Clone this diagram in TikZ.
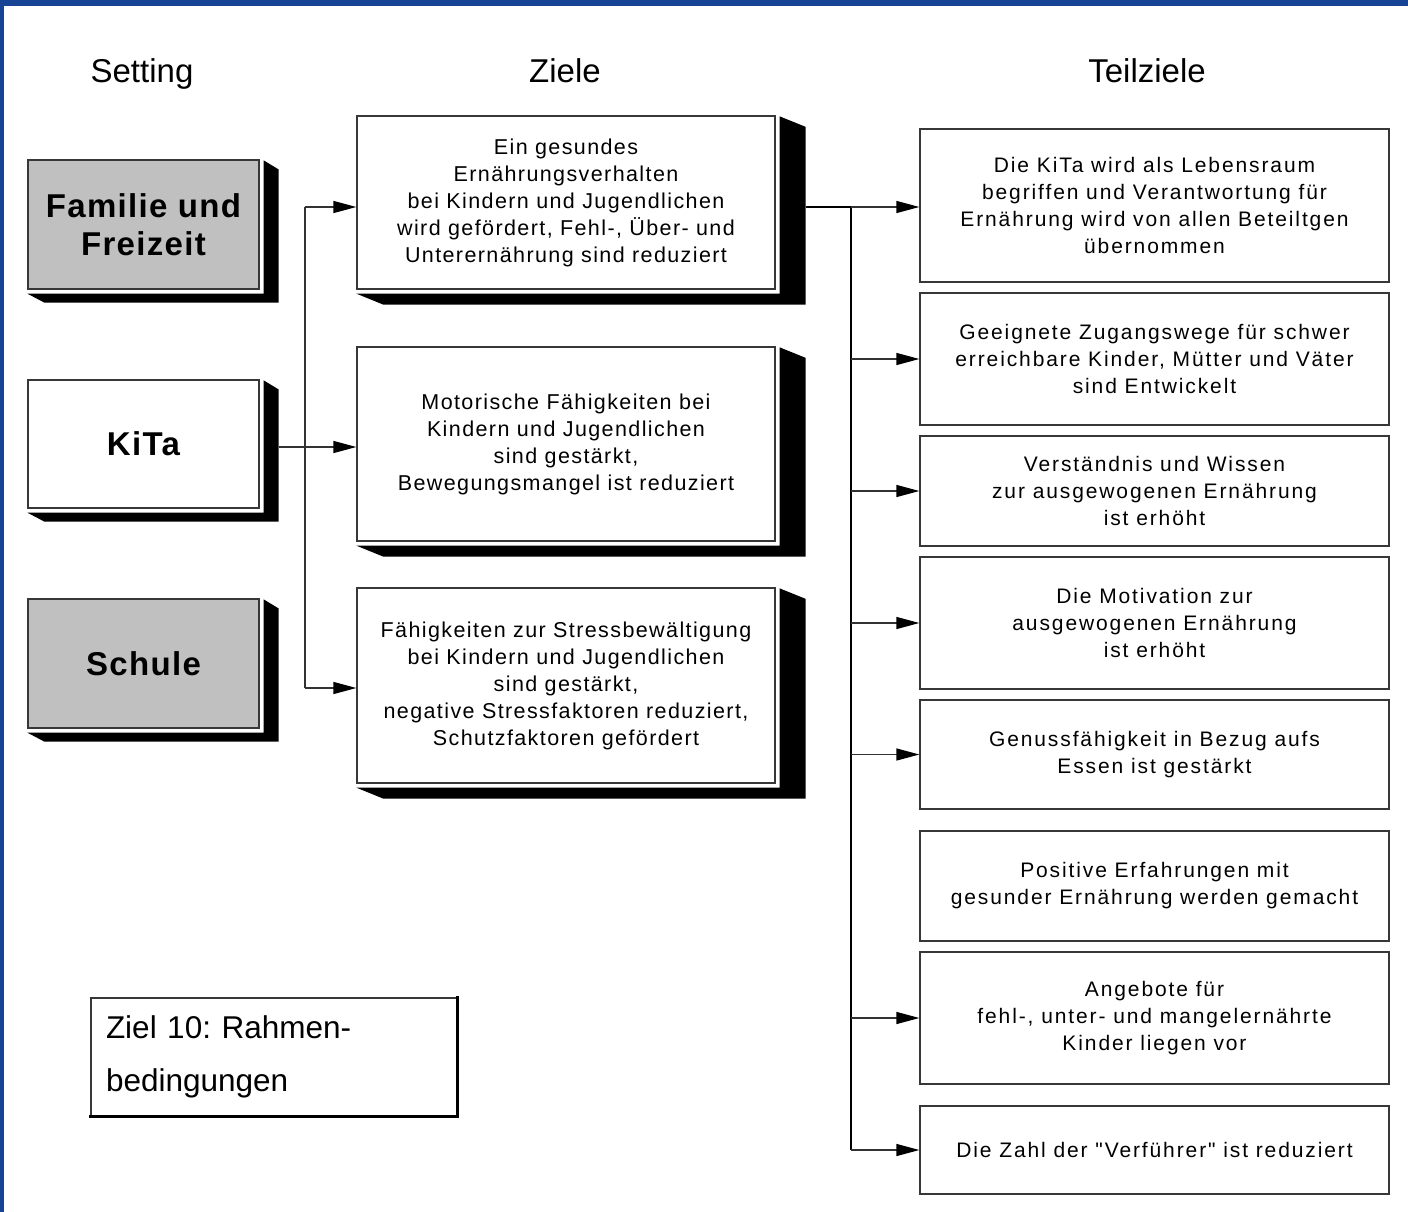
\documentclass[tikz,border=0pt]{standalone}
\usepackage{fontspec}
\setmainfont{Liberation Sans}
\newfontfamily\zfam[LetterSpace=6.5]{Liberation Sans}
\newfontfamily\tfam[LetterSpace=9]{Liberation Sans}
\newfontfamily\sfam[LetterSpace=4]{Liberation Sans}
\usetikzlibrary{arrows.meta,calc}
\definecolor{frameblue}{RGB}{24,68,150}
\definecolor{boxgray}{RGB}{192,192,192}
\definecolor{boxline}{RGB}{55,55,55}
\definecolor{conline}{RGB}{50,50,50}
\newcommand\headfont{\fontsize{33}{38}\selectfont}
\newcommand\setfont{\sfam\bfseries\fontsize{33}{38}\selectfont}
\newcommand\zielfont{\zfam\fontsize{21.5}{27}\selectfont}
\newcommand\teilfont{\tfam\fontsize{21}{27}\selectfont}
\newcommand\zehnfont{\fontsize{31.5}{53}\selectfont}
\newcommand\dshadow[3]{%
  \fill ($(#1.north east)+(4,1)$) -- ($(#1.north east)+(#2,{1+0.7*#3})$)
    -- ($(#1.south east)+(#2,#3)$) -- ($(#1.south west)+({0.9*#2},#3)$)
    -- ($(#1.south west)+(0,4)$) -- ($(#1.south east)+(4,4)$) -- cycle;}
\tikzset{
  setbox/.style={draw=boxline, line width=1.3pt, minimum width=231pt, minimum height=129pt,
    inner sep=0pt, align=center, font=\setfont},
  zielbox/.style={draw=boxline, line width=1.3pt, fill=white, minimum width=418pt,
    minimum height=#1, inner sep=0pt, align=center, font=\zielfont},
  teilbox/.style={draw=boxline, line width=1.3pt, fill=white, minimum width=469pt,
    minimum height=#1, inner sep=0pt, align=center, font=\teilfont},
  header/.style={anchor=base, font=\headfont},
  conn/.style={draw=conline, line width=1.3pt},
  trunk/.style={draw=black, line width=2pt},
  arrowconn/.style={conn, -{Triangle[length=23pt,width=12pt,color=black]}},
}
\begin{document}
\frenchspacing
\begin{tikzpicture}[x=1pt,y=-1pt]
\useasboundingbox (0,0) rectangle (1408,1212);
\fill[white] (0,0) rectangle (1408,1212);
\fill[frameblue] (0,0) rectangle (1408,6);
\fill[frameblue] (0,0) rectangle (4,1212);

% headers
\node[header] (hset) at (142,83) {Setting};
\node[header] (hziel) at (565,83) {Ziele};
\node[header] (hteil) at (1147,83) {Teilziele};

% setting boxes
\node[setbox, fill=boxgray] (fam) at (143.5,224.5) {Familie und\\Freizeit};
\node[setbox, fill=white, minimum height=128pt] (kita) at (143.5,444) {KiTa};
\node[setbox, fill=boxgray] (schule) at (143.5,663.5) {Schule};
\dshadow{fam}{19}{13}
\dshadow{kita}{19}{13}
\dshadow{schule}{19}{13}

% Ziele boxes
\node[zielbox=173pt] (z1) at (566,202.5) {Ein gesundes\\Ernährungsverhalten\\bei Kindern und Jugendlichen\\wird gefördert, Fehl-, Über- und\\Unterernährung sind reduziert};
\node[zielbox=194pt] (z2) at (566,444) {Motorische Fähigkeiten bei\\Kindern und Jugendlichen\\sind gestärkt,\\Bewegungsmangel ist reduziert};
\node[zielbox=195pt] (z3) at (566,685.5) {Fähigkeiten zur Stressbewältigung\\bei Kindern und Jugendlichen\\sind gestärkt,\\negative Stressfaktoren reduziert,\\Schutzfaktoren gefördert};
\dshadow{z1}{30}{15}
\dshadow{z2}{30}{15}
\dshadow{z3}{30}{15}

% Teilziele boxes
\node[teilbox=153pt] (tz1) at (1154.5,205.5) {Die KiTa wird als Lebensraum\\begriffen und Verantwortung für\\Ernährung wird von allen Beteiltgen\\übernommen};
\node[teilbox=132pt] (tz2) at (1154.5,359) {Geeignete Zugangswege für schwer\\erreichbare Kinder, Mütter und Väter\\sind Entwickelt};
\node[teilbox=110pt] (tz3) at (1154.5,491) {Verständnis und Wissen\\zur ausgewogenen Ernährung\\ist erhöht};
\node[teilbox=132pt] (tz4) at (1154.5,623) {Die Motivation zur\\ausgewogenen Ernährung\\ist erhöht};
\node[teilbox=109pt] (tz5) at (1154.5,754.5) {Genussfähigkeit in Bezug aufs\\Essen ist gestärkt};
\node[teilbox=110pt] (tz6) at (1154.5,886) {Positive Erfahrungen mit\\gesunder Ernährung werden gemacht};
\node[teilbox=132pt] (tz7) at (1154.5,1018) {Angebote für\\fehl-, unter- und mangelernährte\\Kinder liegen vor};
\node[teilbox=88pt] (tz8) at (1154.5,1150) {Die Zahl der "Verführer" ist reduziert};

% Ziel 10 box
\node[draw=boxline, line width=1.3pt, fill=white, minimum width=366pt, minimum height=118pt,
  text width=336pt, inner xsep=15pt, inner ysep=0pt, align=left, font=\zehnfont]
  (z10) at (274,1057) {Ziel 10: Rahmen-\\bedingungen};
\draw[line width=2.6pt, line cap=rect] (z10.north east) -- (z10.south east) -- (z10.south west);

% connectors: Setting -> Ziele
\coordinate (t1) at (305,207);
\coordinate (t3) at (305,688);
\coordinate (kout) at ($(kita.east)+(19,3)$);
\draw[conn] (t1) -- (t3);
\draw[arrowconn] (t1) -- (t1 -| z1.west);
\draw[arrowconn] (t3) -- (t3 -| z3.west);
\draw[arrowconn] (kout) -- (kout -| z2.west);

% connectors: Ziele -> Teilziele
\coordinate (u0) at (851,207);
\coordinate (zout) at ($(z1.east |- u0)+(30,0)$);
\coordinate (uend) at (851,1150);
\draw[trunk] (zout) -- (u0);
\draw[trunk] (u0) -- (uend);
\draw[arrowconn] (u0) -- (u0 -| tz1.west);
\draw[arrowconn] (u0 |- tz2.west) -- (tz2.west);
\draw[arrowconn] (u0 |- tz3.west) -- (tz3.west);
\draw[arrowconn] (u0 |- tz4.west) -- (tz4.west);
\draw[arrowconn] (u0 |- tz5.west) -- (tz5.west);
\draw[arrowconn] (u0 |- tz7.west) -- (tz7.west);
\draw[arrowconn] (uend) -- (tz8.west);
\end{tikzpicture}
\end{document}
